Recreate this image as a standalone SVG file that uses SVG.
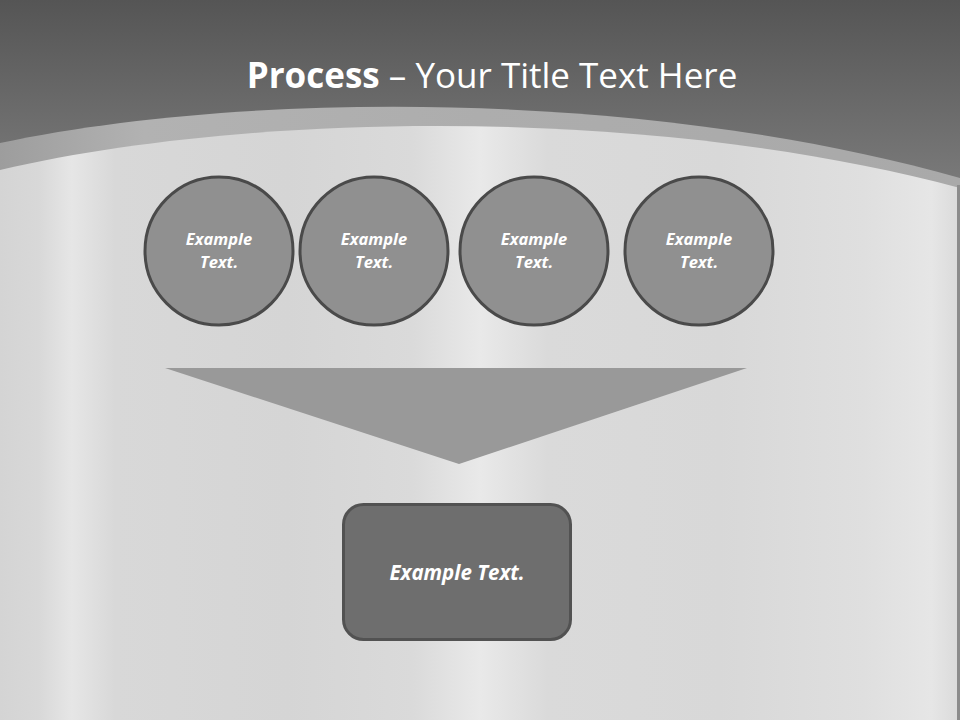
<svg xmlns="http://www.w3.org/2000/svg" width="960" height="720" viewBox="0 0 960 720">
<defs>
<linearGradient id="topbg" gradientUnits="userSpaceOnUse" x1="0" y1="0" x2="0" y2="190">
<stop offset="0" stop-color="#555555"/>
<stop offset="1" stop-color="#7b7b7b"/>
</linearGradient>
<linearGradient id="metal" x1="0" y1="0" x2="1" y2="0">
<stop offset="0" stop-color="#d4d4d4"/>
<stop offset="0.04" stop-color="#d8d8d8"/>
<stop offset="0.075" stop-color="#e6e6e6"/>
<stop offset="0.12" stop-color="#d8d8d8"/>
<stop offset="0.3" stop-color="#d5d5d5"/>
<stop offset="0.43" stop-color="#dadada"/>
<stop offset="0.5" stop-color="#e9e9e9"/>
<stop offset="0.57" stop-color="#dadada"/>
<stop offset="0.75" stop-color="#d8d8d8"/>
<stop offset="0.9" stop-color="#dfdfdf"/>
<stop offset="0.97" stop-color="#e6e6e6"/>
<stop offset="1" stop-color="#dadada"/>
</linearGradient>
<linearGradient id="band" x1="0" y1="0" x2="1" y2="0">
<stop offset="0" stop-color="#9d9d9d"/>
<stop offset="0.15" stop-color="#b2b2b2"/>
<stop offset="0.5" stop-color="#adadad"/>
<stop offset="1" stop-color="#a9a9a9"/>
</linearGradient>
<style>
.circ{fill:#909090;stroke:#4a4a4a;stroke-width:3}
.ct{font-family:"Open Sans","Liberation Sans",sans-serif;font-weight:bold;font-style:italic;font-size:16.5px;fill:#ffffff;text-anchor:middle}
.box{fill:#6e6e6e;stroke:#525252;stroke-width:3}
</style>
</defs>
<rect x="0" y="0" width="960" height="720" fill="url(#topbg)"/>
<path d="M0,143 C250,90 650,90 960,178 L960,720 L0,720 Z" fill="url(#band)"/>
<path d="M0,170 C250,112 650,105 960,188 L960,720 L0,720 Z" fill="url(#metal)"/>
<rect x="957" y="185" width="3" height="535" fill="#8c8c8c"/>
<text x="492" y="88" text-anchor="middle" font-family="Open Sans, Liberation Sans, sans-serif" font-size="35" fill="#ffffff"><tspan font-weight="bold">Process</tspan> – Your Title Text Here</text>
<g id="node1"><circle class="circ" cx="219" cy="251" r="74"/><text class="ct" x="219" y="245">Example</text><text class="ct" x="219" y="268">Text.</text></g>
<g id="node2"><circle class="circ" cx="374" cy="251" r="74"/><text class="ct" x="374" y="245">Example</text><text class="ct" x="374" y="268">Text.</text></g>
<g id="node3"><circle class="circ" cx="534" cy="251" r="74"/><text class="ct" x="534" y="245">Example</text><text class="ct" x="534" y="268">Text.</text></g>
<g id="node4"><circle class="circ" cx="699" cy="251" r="74"/><text class="ct" x="699" y="245">Example</text><text class="ct" x="699" y="268">Text.</text></g>
<g id="connectors"><polygon points="165,368 747,368 459,464" fill="#999999"/></g>
<g id="node5"><rect class="box" x="343.5" y="504.5" width="227" height="135" rx="20"/><text x="457" y="580" text-anchor="middle" font-family="Open Sans, Liberation Sans, sans-serif" font-weight="bold" font-style="italic" font-size="20.5" fill="#ffffff">Example Text.</text></g>
</svg>
